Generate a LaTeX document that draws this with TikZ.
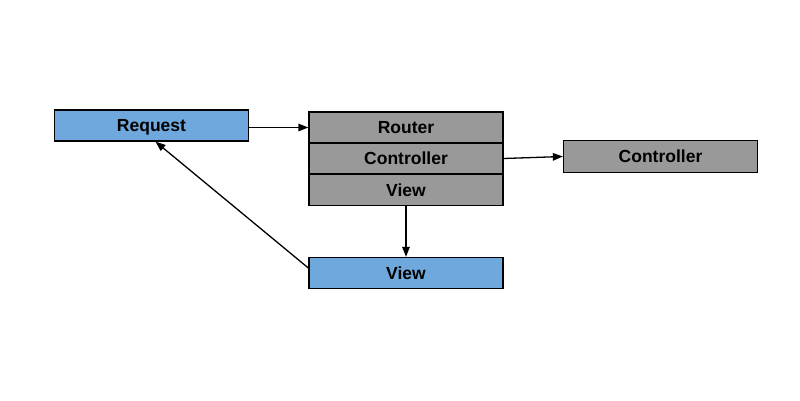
\documentclass[tikz,border=0pt]{standalone}
\usepackage{fontspec}
\setmainfont{Liberation Sans}
\usetikzlibrary{arrows.meta}
\definecolor{boxblue}{HTML}{6FA8DC}
\definecolor{boxgray}{HTML}{999999}
\tikzset{
  box/.style={draw, line width=1.3pt, minimum width=194pt, minimum height=31pt,
    inner sep=0pt, text height=12.6pt, text depth=0pt,
    font=\fontsize{17.5}{20}\selectfont\bfseries},
  bluebox/.style={box, fill=boxblue},
  graybox/.style={box, fill=boxgray},
  arr/.style={line width=1.3pt, -{Triangle[length=10pt,width=7.5pt]}}
}
\begin{document}
\begin{tikzpicture}[x=1pt,y=1pt]
\useasboundingbox (0,0) rectangle (800,400);
\node[bluebox] (req) at (151.5,274.5) {Request};
\node[graybox] (rt) at (406,272.5) {Router};
\node[graybox] (ctl) at (406,241.5) {Controller};
\node[graybox] (vw) at (406,210) {View};
\node[graybox, minimum height=32pt] (ctl2) at (660.5,243.5) {Controller};
\node[bluebox] (vb) at (406,127) {View};
\draw[arr] (req.east |- rt.west) -- (rt.west);
\draw[arr] (ctl.east) -- (ctl2.west);
\draw[arr] (vw.south) -- (vb.north);
\draw[arr] ([yshift=5pt]vb.west) -- ([xshift=4pt]req.south);
\end{tikzpicture}
\end{document}
